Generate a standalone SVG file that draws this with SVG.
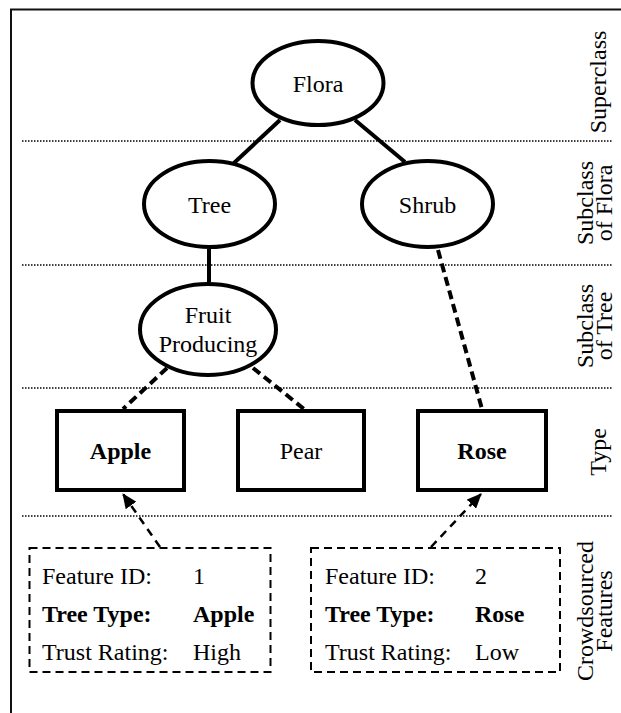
<svg xmlns="http://www.w3.org/2000/svg" width="621" height="713" viewBox="0 0 621 713">
<style>
text{font-family:"Liberation Serif","Times New Roman",serif;font-size:24px;fill:#000}
.c{text-anchor:middle}
.b{font-weight:bold}
.node{fill:#fff;stroke:#000;stroke-width:4}
.sep{stroke:#000;stroke-width:1.5;stroke-dasharray:1.5 1.5;fill:none}
.solid{stroke:#000;stroke-width:4;fill:none}
.dash{stroke:#000;stroke-width:4;stroke-dasharray:9 5;fill:none}
.arr{stroke:#000;stroke-width:2.5;stroke-dasharray:8 6;fill:none;marker-end:url(#ah)}
.feat{fill:#fff;stroke:#000;stroke-width:2;stroke-dasharray:8 5}
</style>
<defs>
<marker id="ah" markerWidth="15" markerHeight="13" refX="14" refY="6.5" orient="auto" markerUnits="userSpaceOnUse">
<path d="M0,0 L15,6.5 L0,13 Z" fill="#000"/>
</marker>
</defs>
<rect x="0" y="0" width="621" height="713" fill="#fff"/>
<path d="M11,713 V9.5 H621" fill="none" stroke="#111" stroke-width="2"/>
<g id="separators">
<line class="sep" x1="22" y1="141" x2="612" y2="141"/>
<line class="sep" x1="22" y1="265" x2="612" y2="265"/>
<line class="sep" x1="22" y1="388" x2="612" y2="388"/>
<line class="sep" x1="22" y1="516" x2="612" y2="516"/>
</g>
<g id="connectors">
<line class="solid" x1="280" y1="120" x2="234" y2="163"/>
<line class="solid" x1="355" y1="120" x2="405" y2="162"/>
<line class="solid" x1="209" y1="249" x2="209" y2="282"/>
<line class="dash" x1="438" y1="250" x2="482" y2="409"/>
<line class="dash" x1="167" y1="368" x2="123" y2="409"/>
<line class="dash" x1="253" y1="368" x2="304" y2="409"/>
<line class="arr" x1="160" y1="547" x2="123" y2="494"/>
<line class="arr" x1="431" y1="547" x2="481" y2="494"/>
</g>
<g id="flora"><ellipse class="node" cx="318" cy="83" rx="65.5" ry="42"/><text class="c" x="318" y="92">Flora</text></g>
<g id="tree"><ellipse class="node" cx="209.5" cy="204" rx="65.5" ry="43"/><text class="c" x="209.5" y="213">Tree</text></g>
<g id="shrub"><ellipse class="node" cx="427.5" cy="204" rx="65.5" ry="43"/><text class="c" x="427.5" y="213">Shrub</text></g>
<g id="fruit"><ellipse class="node" cx="208" cy="329.5" rx="68" ry="45.5"/><text class="c" x="208" y="323">Fruit</text><text class="c" x="208" y="352">Producing</text></g>
<g id="apple"><rect class="node" x="57" y="411" width="127" height="79"/><text class="c b" x="120.5" y="459">Apple</text></g>
<g id="pear"><rect class="node" x="238" y="411" width="126" height="79"/><text class="c" x="301" y="459">Pear</text></g>
<g id="rose"><rect class="node" x="418" y="411" width="128" height="79"/><text class="c b" x="482" y="459">Rose</text></g>
<g id="feature1">
<rect class="feat" x="29.5" y="548" width="241" height="124"/>
<text x="42" y="584">Feature ID:</text><text x="193" y="584">1</text>
<text class="b" x="42" y="622">Tree Type:</text><text class="b" x="193" y="622">Apple</text>
<text x="42" y="660">Trust Rating:</text><text x="193" y="660">High</text>
</g>
<g id="feature2">
<rect class="feat" x="311" y="548" width="249" height="124"/>
<text x="325" y="584">Feature ID:</text><text x="475" y="584">2</text>
<text class="b" x="325" y="622">Tree Type:</text><text class="b" x="475" y="622">Rose</text>
<text x="325" y="660">Trust Rating:</text><text x="475" y="660">Low</text>
</g>
<g id="levels">
<text class="c" transform="translate(606,82) rotate(-90)">Superclass</text>
<text class="c" transform="translate(593,203) rotate(-90)">Subclass</text>
<text class="c" transform="translate(612,203) rotate(-90)">of Flora</text>
<text class="c" transform="translate(593,326) rotate(-90)">Subclass</text>
<text class="c" transform="translate(612,326) rotate(-90)">of Tree</text>
<text class="c" transform="translate(606,452) rotate(-90)">Type</text>
<text class="c" transform="translate(593,611) rotate(-90)">Crowdsourced</text>
<text class="c" transform="translate(612,611) rotate(-90)">Features</text>
</g>
</svg>
